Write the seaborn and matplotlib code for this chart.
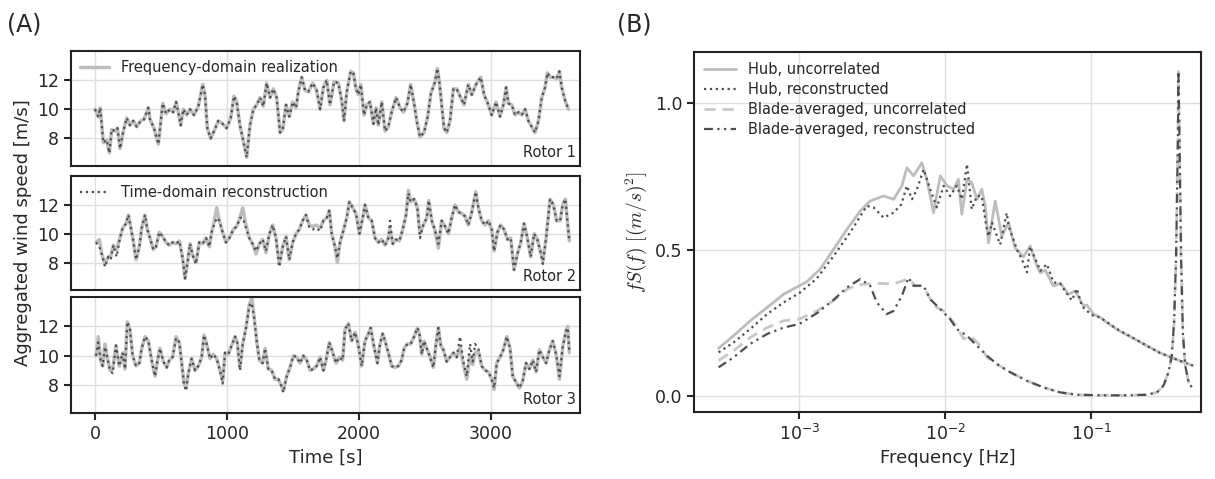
import numpy as np
import pandas as pd
import matplotlib
matplotlib.use('Agg')
import matplotlib.pyplot as plt
import seaborn as sns

# ---- (A) aggregated wind speed ----
R1_T = [0, 25, 40, 63, 88, 109, 126, 152, 170, 190, 215, 240, 265, 290, 316, 346, 371, 404, 417, 447,
        480, 513, 538, 568, 593, 614, 631, 649, 669, 694, 720, 750, 783, 816, 833, 851, 876, 902, 934, 967,
        997, 1028, 1053, 1073, 1098, 1124, 1149, 1174, 1200, 1225, 1250, 1275, 1300, 1326, 1351, 1376, 1402, 1422, 1447, 1472,
        1497, 1523, 1540, 1566, 1591, 1616, 1649, 1679, 1705, 1730, 1755, 1780, 1811, 1843, 1869, 1886, 1907, 1937, 1957, 1977,
        1995, 2013, 2038, 2058, 2083, 2109, 2129, 2146, 2172, 2197, 2222, 2247, 2280, 2311, 2336, 2366, 2391, 2417, 2437, 2462,
        2492, 2518, 2545, 2576, 2593, 2608, 2626, 2644, 2664, 2689, 2715, 2740, 2765, 2795, 2828, 2854, 2886, 2922, 2947, 2980,
        3005, 3038, 3068, 3093, 3114, 3131, 3157, 3182, 3207, 3232, 3258, 3283, 3308, 3333, 3359, 3384, 3409, 3427, 3447, 3472,
        3497, 3518, 3535, 3561, 3586]
R1_FREQ = [10.0, 9.5, 10.1, 7.7, 7.9, 7.0, 8.6, 8.5, 8.7, 7.3, 8.5, 9.4, 8.9, 9.2, 8.8, 9.2, 9.3, 10.1, 9.3, 8.7,
           7.6, 10.4, 9.7, 10.0, 9.8, 10.5, 9.8, 8.9, 10.0, 9.6, 10.0, 9.6, 10.2, 11.7, 11.0, 8.7, 8.0, 8.5, 9.2, 9.0,
           8.7, 9.4, 10.9, 10.5, 8.9, 7.8, 6.7, 8.9, 10.0, 10.3, 10.8, 10.2, 11.8, 10.8, 11.4, 10.8, 8.4, 8.6, 10.3, 9.5,
           10.5, 10.1, 11.2, 12.2, 11.3, 11.2, 11.8, 11.3, 10.0, 11.5, 12.0, 10.3, 11.9, 11.8, 10.6, 9.2, 11.2, 12.6, 12.5, 11.4,
           11.0, 11.7, 9.6, 10.3, 10.5, 9.0, 10.1, 8.9, 10.5, 8.5, 8.8, 9.8, 10.8, 10.1, 9.8, 10.4, 11.7, 10.4, 9.2, 8.1,
           8.4, 9.4, 11.1, 11.9, 12.8, 11.9, 10.3, 8.7, 8.4, 9.2, 11.4, 11.4, 10.9, 10.3, 11.7, 11.0, 11.7, 12.2, 11.0, 10.3,
           9.6, 10.5, 9.5, 10.3, 11.5, 10.4, 10.3, 9.6, 9.8, 9.6, 10.0, 9.2, 8.8, 8.4, 9.2, 10.8, 11.5, 12.5, 12.2, 12.2,
           12.1, 12.6, 11.5, 10.6, 10.0]
# rotor 1: reconstruction lies on top of the realization
R1_TIME = list(R1_FREQ)

R2_T = [8, 33, 51, 76, 101, 119, 139, 164, 189, 210, 235, 253, 270, 290, 311, 336, 354, 379, 396, 417,
        442, 462, 487, 513, 538, 563, 588, 614, 639, 664, 682, 699, 720, 740, 765, 790, 816, 841, 866, 884,
        902, 922, 942, 967, 992, 1018, 1048, 1073, 1098, 1119, 1144, 1169, 1194, 1220, 1245, 1270, 1295, 1321, 1346, 1371,
        1396, 1422, 1447, 1472, 1497, 1523, 1548, 1573, 1598, 1624, 1649, 1674, 1705, 1730, 1755, 1775, 1793, 1818, 1836, 1856,
        1881, 1907, 1927, 1952, 1977, 2003, 2028, 2045, 2071, 2096, 2121, 2146, 2172, 2197, 2222, 2235, 2255, 2280, 2306, 2331,
        2356, 2374, 2391, 2417, 2442, 2462, 2487, 2513, 2528, 2551, 2576, 2601, 2626, 2652, 2677, 2702, 2727, 2753, 2778, 2803,
        2828, 2854, 2884, 2904, 2929, 2955, 2980, 3005, 3023, 3048, 3073, 3098, 3124, 3149, 3174, 3200, 3225, 3250, 3275, 3300,
        3326, 3351, 3376, 3392, 3417, 3447, 3472, 3497, 3523, 3543, 3563, 3578, 3593]
R2_FREQ = [9.4, 9.6, 8.6, 7.9, 8.4, 8.4, 9.2, 8.9, 9.7, 10.4, 10.7, 11.3, 10.5, 9.5, 8.2, 9.1, 10.4, 11.3, 10.3, 9.7,
           8.9, 9.1, 10.1, 9.8, 9.4, 9.2, 9.4, 9.3, 9.5, 8.3, 6.9, 7.9, 9.3, 8.5, 8.0, 9.4, 9.3, 9.7, 9.1, 10.1,
           10.8, 11.8, 10.9, 10.1, 9.4, 9.7, 10.3, 10.5, 11.1, 11.8, 10.6, 9.7, 9.3, 8.6, 9.3, 9.6, 8.7, 10.0, 10.6, 9.7,
           7.9, 9.1, 9.8, 8.2, 9.4, 10.0, 10.3, 10.9, 11.3, 10.6, 10.5, 10.6, 10.4, 10.9, 11.1, 11.6, 10.0, 9.1, 8.0, 9.4,
           10.2, 11.1, 12.2, 11.8, 11.4, 10.0, 11.1, 12.0, 11.1, 10.9, 9.7, 9.4, 9.6, 9.2, 9.7, 10.3, 9.3, 9.6, 9.5, 10.3,
           11.3, 13.0, 12.2, 12.4, 11.8, 10.0, 10.6, 11.1, 12.3, 10.9, 10.2, 9.0, 10.9, 10.5, 10.0, 11.1, 12.0, 11.5, 11.4, 11.2,
           10.6, 11.5, 12.9, 11.8, 10.9, 10.6, 10.9, 10.3, 8.8, 10.1, 10.6, 10.3, 9.6, 9.7, 7.5, 8.6, 9.4, 10.7, 9.7, 8.4,
           10.0, 9.6, 8.7, 8.1, 9.7, 12.4, 12.0, 10.9, 10.9, 12.0, 12.4, 10.9, 9.5]
R2_TIME = [9.4, 9.1, 8.6, 7.7, 8.4, 8.2, 9.2, 8.4, 9.7, 10.4, 10.7, 11.3, 10.5, 9.5, 8.2, 9.1, 10.4, 11.3, 10.3, 9.7,
           8.9, 9.1, 10.1, 9.8, 9.4, 9.2, 9.4, 9.3, 9.5, 8.3, 6.9, 7.9, 9.3, 8.5, 7.9, 9.4, 9.3, 9.7, 9.1, 10.1,
           10.6, 11.1, 10.9, 10.1, 9.4, 9.7, 10.3, 10.5, 11.1, 11.1, 10.4, 9.7, 9.3, 8.8, 9.3, 9.6, 8.8, 10.0, 10.6, 9.7,
           7.7, 9.1, 9.8, 8.2, 9.4, 10.0, 10.3, 10.9, 11.3, 10.4, 10.3, 10.4, 10.2, 10.9, 11.1, 11.6, 10.0, 9.1, 8.3, 9.4,
           10.2, 11.1, 12.2, 11.8, 11.4, 10.0, 11.1, 12.0, 11.1, 10.9, 9.7, 9.4, 9.6, 9.2, 9.7, 10.9, 9.3, 9.6, 9.5, 10.3,
           11.3, 12.8, 12.2, 12.4, 11.8, 9.7, 10.6, 11.1, 12.3, 10.9, 10.2, 9.3, 10.9, 10.5, 10.0, 11.1, 12.0, 11.5, 11.4, 11.2,
           10.6, 11.5, 12.9, 11.8, 10.9, 10.6, 10.9, 10.3, 8.8, 10.1, 10.6, 10.3, 9.6, 9.7, 7.5, 8.6, 9.4, 10.7, 9.7, 8.4,
           10.0, 9.6, 8.7, 7.9, 9.7, 12.4, 12.0, 10.9, 10.9, 12.0, 12.4, 10.9, 9.5]

R3_T = [8, 25, 43, 58, 76, 93, 114, 134, 159, 184, 210, 227, 245, 265, 285, 311, 336, 354, 379, 404,
        429, 455, 472, 492, 518, 543, 563, 588, 614, 639, 657, 674, 689, 707, 732, 758, 783, 808, 826, 846,
        871, 896, 922, 947, 967, 985, 1010, 1035, 1061, 1078, 1098, 1119, 1144, 1169, 1187, 1205, 1225, 1245, 1270, 1288,
        1313, 1338, 1364, 1389, 1414, 1427, 1452, 1477, 1503, 1528, 1553, 1578, 1604, 1629, 1654, 1679, 1705, 1730, 1750, 1775,
        1801, 1826, 1851, 1876, 1894, 1919, 1944, 1970, 1995, 2020, 2045, 2071, 2088, 2114, 2139, 2159, 2179, 2197, 2222, 2247,
        2273, 2298, 2323, 2341, 2366, 2391, 2417, 2442, 2457, 2475, 2492, 2513, 2538, 2563, 2583, 2601, 2619, 2639, 2664, 2689,
        2715, 2740, 2765, 2790, 2816, 2841, 2861, 2879, 2904, 2929, 2955, 2980, 3005, 3023, 3043, 3068, 3093, 3119, 3144, 3164,
        3189, 3215, 3240, 3265, 3291, 3316, 3341, 3366, 3392, 3417, 3442, 3467, 3493, 3518, 3543, 3568, 3581, 3593]
R3_FREQ = [10.0, 11.3, 9.7, 9.3, 10.8, 9.9, 9.0, 9.1, 10.7, 9.3, 10.2, 9.1, 12.3, 11.8, 10.0, 9.3, 9.5, 10.5, 11.3, 11.0,
           9.7, 8.6, 9.6, 10.5, 9.6, 9.2, 9.7, 9.9, 11.3, 10.9, 9.5, 8.1, 7.8, 8.8, 9.8, 9.0, 9.3, 9.9, 11.4, 10.8,
           9.8, 10.1, 9.8, 9.0, 8.3, 10.2, 10.1, 10.7, 11.3, 10.9, 9.2, 10.8, 11.9, 13.5, 13.9, 12.7, 11.0, 9.7, 9.5, 10.5,
           9.1, 9.0, 8.4, 8.4, 7.9, 7.6, 8.6, 9.2, 10.0, 9.9, 9.5, 10.0, 9.7, 9.0, 9.1, 9.3, 9.9, 9.0, 9.7, 10.9,
           10.2, 9.5, 9.9, 9.7, 11.8, 12.2, 11.0, 11.6, 10.7, 9.3, 11.0, 11.5, 11.9, 10.6, 9.5, 10.8, 11.5, 11.0, 10.2, 9.3,
           9.2, 9.3, 9.7, 10.5, 10.8, 10.8, 11.3, 11.9, 11.5, 10.1, 11.0, 10.5, 9.9, 9.2, 10.8, 11.9, 10.7, 10.4, 9.6, 9.9,
           10.2, 9.9, 10.6, 9.4, 8.4, 10.0, 9.4, 10.2, 10.3, 9.3, 9.0, 8.9, 8.4, 7.7, 9.5, 9.9, 10.4, 11.3, 10.5, 8.6,
           8.2, 7.8, 8.3, 9.5, 9.1, 9.7, 8.9, 10.4, 9.9, 9.5, 10.4, 11.0, 10.1, 8.4, 10.6, 11.7, 12.0, 10.2]
R3_TIME = [10.0, 10.9, 9.7, 9.3, 10.6, 9.9, 9.0, 8.8, 10.7, 9.3, 10.2, 9.1, 12.3, 11.8, 10.0, 9.3, 9.5, 10.5, 11.3, 11.0,
           9.7, 8.6, 9.6, 10.5, 9.6, 9.2, 9.7, 9.9, 11.2, 10.9, 9.5, 8.1, 7.6, 8.8, 9.8, 9.0, 9.3, 9.9, 11.4, 10.8,
           9.8, 10.1, 9.8, 9.0, 8.1, 10.2, 10.1, 10.7, 11.3, 10.9, 9.0, 10.8, 11.9, 13.4, 13.6, 12.6, 11.0, 9.7, 9.5, 10.5,
           9.1, 9.0, 8.4, 8.4, 7.9, 7.5, 8.6, 9.2, 10.0, 9.9, 9.5, 10.0, 9.7, 9.0, 9.1, 9.3, 9.9, 9.0, 9.7, 10.9,
           10.2, 9.5, 9.9, 9.7, 11.8, 12.2, 11.0, 11.6, 10.7, 9.3, 11.0, 11.5, 11.9, 10.6, 9.5, 10.8, 11.5, 11.0, 10.2, 9.3,
           9.2, 9.3, 9.7, 10.5, 10.8, 10.8, 11.3, 11.9, 11.5, 10.1, 11.0, 10.5, 9.9, 9.2, 10.8, 11.9, 10.7, 10.4, 9.6, 9.9,
           10.2, 9.9, 11.3, 9.6, 8.6, 10.8, 9.6, 10.8, 10.5, 9.3, 9.0, 8.9, 8.4, 7.8, 9.5, 9.9, 10.4, 11.3, 10.5, 8.6,
           8.2, 7.8, 8.3, 9.5, 9.1, 9.7, 8.9, 10.4, 9.9, 9.5, 10.4, 11.0, 10.1, 8.6, 10.6, 11.7, 11.9, 10.2]

# ---- (B) premultiplied spectra ----
HUB_UNC_F = [2.80e-4, 3.55e-4, 4.61e-4, 6.03e-4, 7.82e-4, 1.00e-3, 1.13e-3, 1.39e-3, 1.72e-3, 2.12e-3,
             2.62e-3, 3.06e-3, 3.78e-3, 4.43e-3, 5.05e-3, 5.46e-3, 6.07e-3, 6.92e-3, 7.48e-3, 8.32e-3,
             9.25e-3, 1.03e-2, 1.14e-2, 1.23e-2, 1.30e-2, 1.41e-2, 1.52e-2, 1.65e-2, 1.78e-2, 1.88e-2,
             1.98e-2, 2.20e-2, 2.44e-2, 2.72e-2, 3.01e-2, 3.44e-2, 3.82e-2, 4.25e-2, 4.48e-2, 4.84e-2,
             5.52e-2, 6.14e-2, 6.47e-2, 7.00e-2, 7.77e-2, 8.87e-2, 9.34e-2, 0.104, 0.115, 0.128,
             0.158, 0.195, 0.240, 0.297, 0.366, 0.452, 0.497]
HUB_UNC_S = [0.162, 0.205, 0.256, 0.302, 0.347, 0.376, 0.390, 0.433, 0.501, 0.569,
             0.632, 0.666, 0.683, 0.672, 0.718, 0.780, 0.752, 0.797, 0.740, 0.626,
             0.752, 0.718, 0.706, 0.740, 0.621, 0.740, 0.729, 0.672, 0.706, 0.649,
             0.523, 0.666, 0.546, 0.592, 0.506, 0.475, 0.512, 0.444, 0.420, 0.430,
             0.375, 0.385, 0.370, 0.347, 0.358, 0.307, 0.310, 0.279, 0.268, 0.250,
             0.220, 0.196, 0.171, 0.146, 0.128, 0.110, 0.103]

HUB_REC_F = [2.80e-4, 3.55e-4, 4.61e-4, 6.03e-4, 7.82e-4, 1.00e-3, 1.32e-3, 1.72e-3, 2.23e-3, 2.90e-3,
             3.23e-3, 3.78e-3, 4.43e-3, 5.01e-3, 5.46e-3, 5.92e-3, 6.40e-3, 7.11e-3, 7.89e-3, 8.77e-3,
             9.75e-3, 1.08e-2, 1.20e-2, 1.30e-2, 1.41e-2, 1.52e-2, 1.65e-2, 1.78e-2, 1.91e-2, 1.98e-2,
             2.09e-2, 2.26e-2, 2.38e-2, 2.64e-2, 2.72e-2, 3.10e-2, 3.35e-2, 3.63e-2, 3.82e-2, 4.25e-2,
             4.48e-2, 4.97e-2, 5.52e-2, 6.14e-2, 6.82e-2, 7.38e-2, 7.98e-2, 8.63e-2, 9.34e-2, 0.104,
             0.115, 0.128, 0.150, 0.185, 0.240, 0.297, 0.366, 0.452, 0.497]
HUB_REC_S = [0.148, 0.182, 0.228, 0.279, 0.319, 0.351, 0.401, 0.478, 0.558, 0.649,
             0.644, 0.609, 0.626, 0.655, 0.718, 0.672, 0.706, 0.774, 0.706, 0.644,
             0.718, 0.683, 0.718, 0.672, 0.792, 0.638, 0.683, 0.683, 0.581, 0.545,
             0.592, 0.547, 0.517, 0.625, 0.580, 0.500, 0.467, 0.422, 0.510, 0.455,
             0.427, 0.450, 0.388, 0.383, 0.349, 0.326, 0.366, 0.307, 0.290, 0.273,
             0.268, 0.252, 0.228, 0.203, 0.171, 0.146, 0.128, 0.110, 0.103]

BLADE_UNC_F = [2.80e-4, 3.55e-4, 4.61e-4, 6.03e-4, 7.82e-4, 1.00e-3, 1.32e-3, 1.72e-3, 2.12e-3, 2.48e-3,
               2.90e-3, 3.59e-3, 4.43e-3, 5.60e-3, 6.24e-3, 6.75e-3, 7.48e-3, 8.32e-3, 9.75e-3, 1.14e-2,
               1.34e-2, 1.48e-2, 1.74e-2, 1.93e-2, 2.26e-2, 2.79e-2, 3.62e-2, 4.72e-2, 6.14e-2, 7.98e-2,
               0.115, 0.175, 0.240, 0.282, 0.313, 0.339, 0.357, 0.370, 0.382, 0.393,
               0.396, 0.403, 0.413, 0.425, 0.441, 0.465, 0.497]
BLADE_UNC_S = [0.120, 0.154, 0.199, 0.233, 0.256, 0.262, 0.290, 0.325, 0.364, 0.378,
               0.382, 0.384, 0.382, 0.400, 0.376, 0.376, 0.353, 0.308, 0.290, 0.251,
               0.194, 0.205, 0.171, 0.131, 0.108, 0.080, 0.051, 0.028, 0.011, 0.003,
               0.001, 0.001, 0.003, 0.011, 0.034, 0.080, 0.137, 0.251, 0.478, 0.877,
               1.110, 0.877, 0.478, 0.216, 0.103, 0.046, 0.023]

BLADE_REC_F = [2.80e-4, 3.55e-4, 4.61e-4, 6.03e-4, 7.82e-4, 1.00e-3, 1.32e-3, 1.72e-3, 2.12e-3, 2.62e-3,
               3.06e-3, 3.40e-3, 3.98e-3, 4.43e-3, 5.05e-3, 5.61e-3, 6.07e-3, 7.11e-3, 7.89e-3, 9.25e-3,
               1.08e-2, 1.20e-2, 1.41e-2, 1.65e-2, 1.93e-2, 2.26e-2, 2.79e-2, 3.62e-2, 4.72e-2, 6.14e-2,
               7.98e-2, 0.115, 0.175, 0.240, 0.282, 0.313, 0.339, 0.357, 0.370, 0.382,
               0.393, 0.396, 0.403, 0.413, 0.425, 0.441, 0.465, 0.497]
BLADE_REC_S = [0.097, 0.131, 0.177, 0.211, 0.233, 0.245, 0.282, 0.328, 0.370, 0.399,
               0.376, 0.319, 0.279, 0.290, 0.342, 0.404, 0.376, 0.376, 0.330, 0.296,
               0.262, 0.228, 0.205, 0.171, 0.137, 0.108, 0.080, 0.051, 0.028, 0.011,
               0.003, 0.001, 0.001, 0.003, 0.011, 0.034, 0.080, 0.137, 0.251, 0.478,
               0.877, 1.110, 0.877, 0.478, 0.216, 0.103, 0.046, 0.023]

ROTORS = ['Rotor 1', 'Rotor 2', 'Rotor 3']

sns.set_theme(style='ticks')
plt.rcParams.update({
    'font.family': ['DejaVu Sans'],
    'mathtext.fontset': 'cm',
    'axes.edgecolor': '#222222',
    'axes.linewidth': 1.5,
    'xtick.major.width': 1.5,
    'ytick.major.width': 1.5,
    'xtick.major.size': 5,
    'ytick.major.size': 5,
    'xtick.labelsize': 12.5,
    'ytick.labelsize': 12.5,
    'axes.labelsize': 13,
    'text.color': '#262626',
    'axes.labelcolor': '#262626',
    'xtick.color': '#262626',
    'ytick.color': '#262626',
})

GREY = '#bdbdbd'
DARK = '#4d4d4d'

fig = plt.figure(figsize=(12.15, 4.79), dpi=100)

boxes = [[0.0584, 0.6534, 0.419, 0.2401],
         [0.0584, 0.3946, 0.419, 0.2380],
         [0.0584, 0.1378, 0.419, 0.2422]]
series = [(R1_T, R1_FREQ, R1_TIME), (R2_T, R2_FREQ, R2_TIME), (R3_T, R3_FREQ, R3_TIME)]

axes_a = []
for i, (box, (t, vf, vt)) in enumerate(zip(boxes, series)):
    ax = fig.add_axes(box)
    sns.lineplot(x=t, y=vf, ax=ax, color=GREY, lw=2.5, estimator=None, sort=False,
                 label='Frequency-domain realization', legend=False)
    sns.lineplot(x=t, y=vt, ax=ax, color=DARK, lw=1.6, ls=':', estimator=None, sort=False,
                 label='Time-domain reconstruction', legend=False)
    ax.set_xlim(-182, 3674)
    ax.set_ylim(6.1, 14.0)
    ax.set_yticks([8, 10, 12])
    ax.set_xticks([0, 1000, 2000, 3000])
    ax.grid(True, color='#dedede', lw=1)
    ax.set_axisbelow(True)
    for s in ax.spines.values():
        s.set_visible(True)
    ax.text(0.992, 0.05, ROTORS[i], transform=ax.transAxes, ha='right', va='bottom', fontsize=10.5)
    if i < 2:
        ax.tick_params(axis='x', length=0, labelbottom=False)
    axes_a.append(ax)

h0 = axes_a[0].get_lines()
axes_a[0].legend(handles=[h0[0]], loc='upper left', frameon=False, fontsize=10.5,
                 borderaxespad=0.2, handlelength=2.0)
h1 = axes_a[1].get_lines()
axes_a[1].legend(handles=[h1[1]], loc='upper left', frameon=False, fontsize=10.5,
                 borderaxespad=0.2, handlelength=2.0)
axes_a[1].set_ylabel('Aggregated wind speed [m/s]')
axes_a[2].set_xlabel('Time [s]')

# ---- (B) ----
axb = fig.add_axes([0.5712, 0.1399, 0.4173, 0.7516])
sns.lineplot(x=HUB_UNC_F, y=HUB_UNC_S, ax=axb, color=GREY, lw=2.0, estimator=None, sort=False,
             label='Hub, uncorrelated', legend=False)
sns.lineplot(x=HUB_REC_F, y=HUB_REC_S, ax=axb, color=DARK, lw=1.6, ls=':', estimator=None, sort=False,
             label='Hub, reconstructed', legend=False)
sns.lineplot(x=BLADE_UNC_F, y=BLADE_UNC_S, ax=axb, color='#c8c8c8', lw=2.0, ls=(0, (4, 2.5)),
             estimator=None, sort=False, label='Blade-averaged, uncorrelated', legend=False)
sns.lineplot(x=BLADE_REC_F, y=BLADE_REC_S, ax=axb, color=DARK, lw=1.6, ls=(0, (4, 2, 1, 2, 1, 2)),
             estimator=None, sort=False, label='Blade-averaged, reconstructed', legend=False)
axb.set_xscale('log')
axb.set_xlim(1.9e-4, 0.566)
axb.set_ylim(-0.056, 1.176)
axb.set_xticks([1e-3, 1e-2, 1e-1])
axb.minorticks_off()
axb.set_yticks([0.0, 0.5, 1.0])
axb.grid(True, color='#dedede', lw=1)
axb.set_axisbelow(True)
for s in axb.spines.values():
    s.set_visible(True)
axb.legend(handles=axb.get_lines(), loc='upper left', frameon=False, fontsize=10.5,
           borderaxespad=0.3, handlelength=2.2, labelspacing=0.35)
axb.set_xlabel('Frequency [Hz]')
axb.set_ylabel(r'$fS(f)\ [(m/s)^2]$', fontsize=14)

fig.text(0.006, 0.935, '(A)', fontsize=17)
fig.text(0.508, 0.935, '(B)', fontsize=17)

fig.savefig('out.png', dpi=100)
